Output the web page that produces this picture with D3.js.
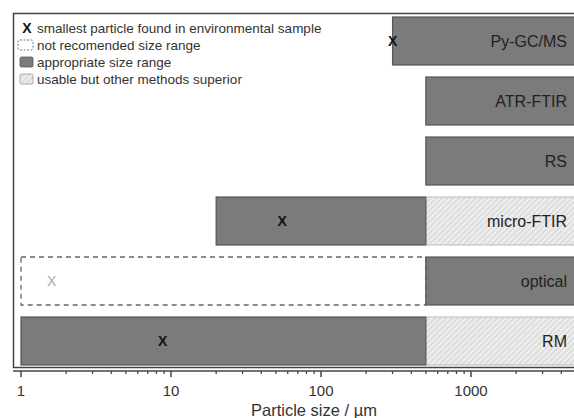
<!DOCTYPE html>
<html>
<head>
<meta charset="utf-8">
<script src="https://cdn.jsdelivr.net/npm/d3@7"></script>
<style>
  body { margin: 0; background: #fff; }
  svg { font-family: "Liberation Sans", Arial, sans-serif; }
</style>
</head>
<body>
<div id="chart"></div>
<script>
// methods, top to bottom
const methods = ['Py-GC/MS', 'ATR-FTIR', 'RS', 'micro-FTIR', 'optical', 'RM'];
// appropriate size range start (um)
const goodStart = [300, 500, 500, 20, 500, 1];
// appropriate range end (um); null = open to the right
const goodEnd = [null, null, null, 500, null, 500];
// "usable but other methods superior" start (um)
const usableStart = [null, null, null, 500, null, 500];
// "not recommended" range
const notRecStart = [null, null, null, null, 1, null];
const notRecEnd = [null, null, null, null, 500, null];
// smallest particle found in environmental samples (um)
const smallest = [300, null, null, 55, 1.6, 8.8];
const tickValues = [1, 10, 100, 1000];

const legendItems = [
  { type: 'x', label: 'smallest particle found in environmental sample' },
  { type: 'dash', label: 'not recomended size range' },
  { type: 'fill', label: 'appropriate size range' },
  { type: 'hatch', label: 'usable but other methods superior' }
];

const width = 574, height = 418;
const barFill = '#7b7b7b', barStroke = '#555';

const x = d3.scaleLog().domain([1, 5000]).range([21, 21 + 150 * Math.log10(5000)]);
const y = d3.scaleBand().domain(methods).range([11, 371]).paddingInner(0.2).paddingOuter(0.1);

const svg = d3.select('#chart').append('svg')
  .attr('width', width).attr('height', height);

const defs = svg.append('defs');
const pat = defs.append('pattern')
  .attr('id', 'hatch').attr('patternUnits', 'userSpaceOnUse')
  .attr('width', 4).attr('height', 4)
  .attr('patternTransform', 'rotate(45)');
pat.append('rect').attr('width', 4).attr('height', 4).attr('fill', '#ececec');
pat.append('line').attr('x1', 0).attr('y1', 0).attr('x2', 0).attr('y2', 4)
  .attr('stroke', '#c4c4c4').attr('stroke-width', 1.2);

const xMax = width + 5;

// frame
svg.append('path')
  .attr('d', `M${xMax},13.5H13.5V367.5H${xMax}`)
  .attr('fill', 'none').attr('stroke', '#444').attr('stroke-width', 1.5);

const rows = svg.append('g').selectAll('g').data(methods).join('g');

rows.each(function (m, i) {
  const g = d3.select(this);
  const y0 = y(m), h = y.bandwidth();
  if (notRecStart[i] != null) {
    g.append('rect')
      .attr('x', x(notRecStart[i])).attr('y', y0)
      .attr('width', x(notRecEnd[i]) - x(notRecStart[i])).attr('height', h)
      .attr('fill', 'none').attr('stroke', '#666').attr('stroke-width', 1.3)
      .attr('stroke-dasharray', '5,4');
  }
  const ge = goodEnd[i] != null ? x(goodEnd[i]) : xMax;
  g.append('rect')
    .attr('x', x(goodStart[i])).attr('y', y0)
    .attr('width', ge - x(goodStart[i])).attr('height', h)
    .attr('fill', barFill).attr('stroke', barStroke).attr('stroke-width', 1.2);
  if (usableStart[i] != null) {
    g.append('rect')
      .attr('x', x(usableStart[i])).attr('y', y0)
      .attr('width', xMax - x(usableStart[i])).attr('height', h)
      .attr('fill', 'url(#hatch)').attr('stroke', '#bbb').attr('stroke-width', 1);
    g.append('line')
      .attr('x1', x(usableStart[i])).attr('x2', x(usableStart[i]))
      .attr('y1', y0).attr('y2', y0 + h)
      .attr('stroke', barStroke).attr('stroke-width', 1.2);
  }
  if (smallest[i] != null) {
    g.append('text')
      .attr('x', x(smallest[i])).attr('y', y0 + h / 2 + 5)
      .attr('text-anchor', 'middle')
      .attr('font-size', 14).attr('font-weight', i === 4 ? 'normal' : 'bold')
      .attr('fill', i === 4 ? '#aaa' : '#111')
      .text('X');
  }
  g.append('text')
    .attr('x', 567).attr('y', y0 + h / 2 + 6)
    .attr('text-anchor', 'end').attr('font-size', 16).attr('fill', '#222')
    .text(m);
});

// x axis
const minor = [];
for (let d = 1; d <= 1000; d *= 10) for (let k = 2; k <= 9; k++) minor.push(d * k);
const axisY = 371;
const axis = svg.append('g').attr('transform', `translate(0,${axisY})`);
axis.append('line').attr('x1', 13).attr('x2', xMax).attr('stroke', '#444').attr('stroke-width', 1.5);
axis.selectAll('.minor').data(minor.filter(v => x(v) < width)).join('line')
  .attr('x1', d => x(d)).attr('x2', d => x(d)).attr('y1', 0).attr('y2', 3)
  .attr('stroke', '#444').attr('stroke-width', 1.3);
axis.selectAll('.major').data(tickValues).join('line')
  .attr('x1', d => x(d)).attr('x2', d => x(d)).attr('y1', 0).attr('y2', 6)
  .attr('stroke', '#444').attr('stroke-width', 1.5);
axis.selectAll('.lab').data(tickValues).join('text')
  .attr('x', d => x(d)).attr('y', 25)
  .attr('text-anchor', 'middle').attr('font-size', 15).attr('fill', '#333')
  .text(d => d);

svg.append('text')
  .attr('x', 314).attr('y', 416)
  .attr('text-anchor', 'middle').attr('font-size', 16.5).attr('fill', '#333')
  .text('Particle size / µm');

// legend
const lg = svg.append('g').attr('transform', 'translate(19,28)');
legendItems.forEach((it, i) => {
  const g = lg.append('g').attr('transform', `translate(0,${i * 17})`);
  if (it.type === 'x') {
    g.append('text').attr('x', 8).attr('y', 5).attr('text-anchor', 'middle')
      .attr('font-size', 14).attr('font-weight', 'bold').attr('fill', '#111').text('X');
  } else if (it.type === 'dash') {
    g.append('rect').attr('x', -1).attr('y', -5).attr('width', 15).attr('height', 10)
      .attr('rx', 2)
      .attr('fill', 'none').attr('stroke', '#777').attr('stroke-width', 1).attr('stroke-dasharray', '2,1.5');
  } else {
    g.append('rect').attr('x', 1).attr('y', -5).attr('width', 13).attr('height', 10)
      .attr('rx', 1.5)
      .attr('fill', it.type === 'fill' ? barFill : 'url(#hatch)')
      .attr('stroke', it.type === 'fill' ? barStroke : '#999').attr('stroke-width', 0.8);
  }
  g.append('text').attr('x', 18).attr('y', 4.5)
    .attr('font-size', 13.5).attr('fill', '#333').text(it.label);
});
</script>
</body>
</html>
